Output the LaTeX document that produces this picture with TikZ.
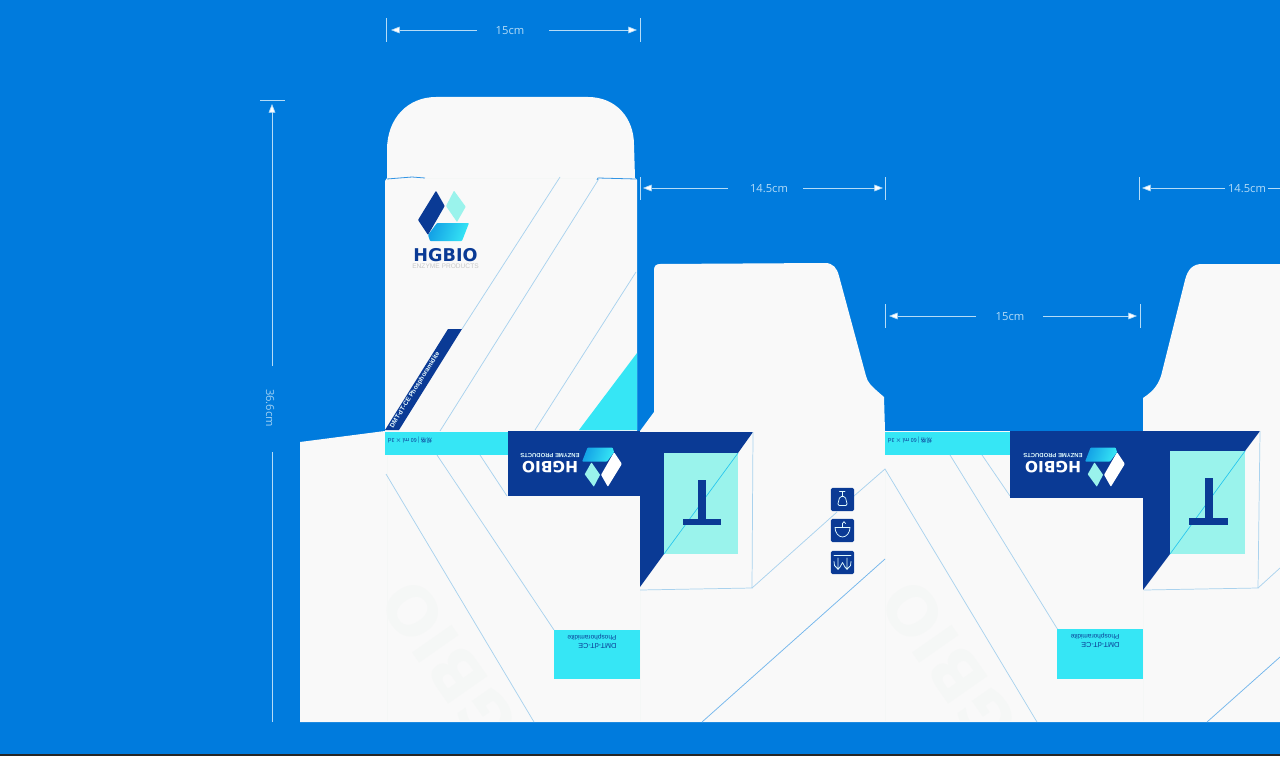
\documentclass[tikz,border=0pt]{standalone}
\usepackage{fontspec}
\setmainfont{Liberation Sans}
\newfontfamily\cjkf{Noto Sans CJK SC}
\newfontfamily\brandf{DejaVu Sans}
\newfontfamily\dimf{Open Sans}
\usetikzlibrary{arrows.meta}
\definecolor{bgblue}{HTML}{007BDD}
\definecolor{sheet}{HTML}{F9F9F9}
\definecolor{navy}{HTML}{0A3A95}
\definecolor{cyanb}{HTML}{36E6F5}
\definecolor{teal}{HTML}{9AF3EC}
\definecolor{fold}{HTML}{A9D2EE}
\definecolor{dimc}{HTML}{B5DCF7}
\definecolor{wmark}{HTML}{F5F7F6}
\newcommand{\sz}[1]{\fontsize{\dimexpr#1pt*3/4\relax}{\dimexpr#1pt\relax}\selectfont}
\colorlet{HGa}{bgblue!65!cyanb}
\colorlet{HGb}{cyanb}
\newcommand{\hglogo}[4]{% cx,cy,scale,para colour
 \begin{scope}[shift={(#1,#2)},xscale=#3,yscale=#3]
  \fill[#4,rounded corners=0.6pt] (-7.5,-25.3)--(1.2,-10)--(-15.5,19)--(-25.5,4)--cycle;
  \fill[teal,rounded corners=0.4pt] (10.5,-25.3)--(22.2,-9.3)--(13.5,6)--(2.5,-10)--cycle;
  \shade[left color=HGa,right color=HGb,rounded corners=0.6pt,shading angle=70] (-6.5,7)--(25.5,7)--(18.5,25)--(-13.5,25)--(-15.5,19)--cycle;
 \end{scope}}
\newcommand{\wicon}[2]{\node[iconbox] (#1) at #2 {};}
\tikzset{
 x=0.75pt,y=-0.75pt,
 sheetfill/.style={fill=sheet},
 foldline/.style={draw=fold,line width=0.55pt},
 edgeline/.style={draw=bgblue!80!white,line width=0.6pt},
 dimtick/.style={draw=dimc,line width=0.45pt},
 dimline/.style={draw=dimc,line width=0.5pt,-{Triangle[length=6.5pt,width=5pt,fill=white]}},
 dimplain/.style={draw=dimc,line width=0.5pt},
 dimtext/.style={text=dimc,inner sep=0pt,font=\dimf\sz{11.2}},
 hgword/.style={text=navy,inner sep=0pt,font=\brandf\bfseries\sz{17.6}},
 hgsub/.style={text=black!22,inner sep=0pt,font=\sz{6.6}},
 hgwordw/.style={text=white,inner sep=0pt,font=\brandf\bfseries\sz{15.4}},
 hgsubw/.style={text=white!85!cyanb,inner sep=0pt,font=\sz{5.9}\bfseries},
 boxlabel/.style={text=navy,inner sep=0pt,font=\sz{6.5}},
 iconbox/.style={fill=navy,draw=navy,rounded corners=1pt,minimum width=17pt,minimum height=17pt,inner sep=0pt},
 glyph/.style={draw=white!85!cyanb,line width=0.55pt,line cap=round,line join=round},
 wm/.style={text=wmark,inner sep=0pt,font=\brandf\bfseries\sz{66}}
}
\begin{document}
\begin{tikzpicture}
\useasboundingbox (0,0) rectangle (1280,756);
\begin{scope}
\clip (0,0) rectangle (1280,756);
\fill[bgblue] (0,0) rectangle (1280,756);
\fill[black!85] (0,754) rectangle (1280,756);
% sheet outline
\fill[sheetfill] (300,442)--(385,431)--(385,181)--(387,178)--(387,150)
  .. controls (387,118) and (408,97) .. (436,97)
  --(588,97) .. controls (616,97) and (634,118) .. (634,145)
  --(635,178)--(637,180)--(637,431)--(640,431)--(654,412)--(654,270)
  .. controls (654,266) and (656,264) .. (660,264)
  --(825,263) .. controls (833,263) and (837,268) .. (839,276)
  --(866,376) .. controls (868,383) and (870,385) .. (884,397)
  --(885,431)--(1143,431)--(1143,398)
  .. controls (1155,390) and (1158,384) .. (1161,376)
  --(1185,280) .. controls (1188,268) and (1194,264) .. (1202,264)
  --(1280,264)--(1280,722)--(300,722)--cycle;
% watermark
\begin{scope}
 \clip (300,500) rectangle (640,720.5);
 \node[wm,rotate=125,anchor=east] (wmA) at (396.5,588) {HGBIO};
\end{scope}
\begin{scope}
 \clip (885,500) rectangle (1143,720.5);
 \node[wm,rotate=125,anchor=east] (wmB) at (896.5,588) {HGBIO};
\end{scope}
\draw[draw=wmark,line width=0.5pt] (387,456)--(387,721) (640,590)--(640,721) (885,470)--(885,721) (1143,590)--(1143,721);
% upper panel fold lines
\draw[edgeline] (387,179)--(412,177)--(425,178);
\draw[edgeline] (597,180)--(598,178)--(636,179);
\draw[draw=wmark,line width=0.5pt] (425,178)--(597,178);
\draw[foldline] (560,177)--(462,329);
\draw[foldline] (600,177)--(440,431);
\draw[foldline] (636,272)--(535,430);
% cyan triangle and strip
\fill[cyanb] (637,353)--(579,430)--(637,430)--cycle;
\fill[navy] (448,329)--(462,329)--(399,430)--(385,430)--cycle;
\node[rotate=58,text=white!90!cyanb,inner sep=0pt,font=\sz{6.4}\bfseries] (strip) at (415,390) {DMT-dT-CE Phosphoramidite};
% logo on the front
\hglogo{443.5}{216}{1}{navy}
\node[hgword] (hg1) at (445.5,255) {HGBIO};
\node[hgsub] (sub1) at (445.5,266) {ENZYME PRODUCTS};
% lower-left fold lines
\draw[foldline] (386,474)--(534,722);
\draw[foldline] (437,455)--(554,630);
\draw[foldline] (480,455)--(507,496);
% band and banner 1
\fill[cyanb] (385,432) rectangle (508,455);
\node[rotate=180,text=navy,inner sep=0pt,font=\cjkf\sz{5.6}] (spec1) at (410,440) {规格 | 60 ml × 3d};
\fill[navy] (508,431) rectangle (640,496);
\hglogo{602}{467}{-0.78}{white}
\node[hgwordw,rotate=180] (hg2) at (550,467) {HGBIO};
\node[hgsubw,rotate=180] (sub2) at (550,456) {ENZYME PRODUCTS};
% cyan box 1
\fill[cyanb] (554,630) rectangle (640,679);
\node[boxlabel,rotate=180,align=left] (box1) at (592,641.5) {{\sz{7.2}DMT-dT-CE}\\Phosphoramidite};
% end panel 1
\fill[navy] (640,432)--(753,432)--(738,453)--(664,453)--(664,554)--(640,587)--cycle;
\fill[teal] (664,453) rectangle (738,554);
\draw[draw=cyanb!70!bgblue,line width=0.5pt] (738,453)--(664,554);
\fill[navy] (698,480) rectangle (706,520);
\fill[navy] (683,519) rectangle (721,525);
\draw[foldline] (753,432)--(752,588)--(640,590);
\draw[foldline] (752,588)--(837,512);
\draw[foldline] (854,496)--(885,469)--(1037,722);
\draw[foldline,draw=bgblue!55!white] (885,559)--(702,722);
% icons
\wicon{icA}{(842.5,499.5)}
\wicon{icB}{(842.5,530.5)}
\wicon{icC}{(842.5,562.5)}
\begin{scope}[shift={(icA.center)}]
 \draw[glyph] (-3,-7.7)--(2.5,-7.7) (0,-7.7)--(0,-3);
 \draw[glyph,rounded corners=1.2pt] (-2.7,-3)--(2.7,-3)--(5,6)--(-5,6)--cycle;
\end{scope}
\begin{scope}[shift={(icB.center)}]
 \draw[glyph] (-7.5,-3)--(7.5,-3) .. controls (7.5,2) and (4,6.5) .. (0,6.5) .. controls (-4,6.5) and (-7.5,2) .. (-7.5,-3)--cycle;
 \draw[glyph] (0,-3)--(0,-7) .. controls (0,-9.5) and (3,-9.5) .. (3,-7);
\end{scope}
\begin{scope}[shift={(icC.center)}]
 \draw[glyph] (-8.5,-7.5)--(8.5,-7.5);
 \draw[glyph] (-4.5,-4.5)--(-4.5,7) (-6.5,4.5)--(-4.5,7)--(-2.5,4.5);
 \draw[glyph] (4.5,-4.5)--(4.5,7) (2.5,4.5)--(4.5,7)--(6.5,4.5);
 \draw[glyph] (-8.5,-1)--(-8,3)--(-6.5,4.5) (-2.5,4.5)--(0,0)--(2.5,4.5) (6.5,4.5)--(8,3)--(8.5,-1);
\end{scope}
% second set
\draw[foldline] (950,455)--(1058,630);
\draw[foldline] (982,455)--(1010,496);
\fill[cyanb] (885,432) rectangle (1010,455);
\node[rotate=180,text=navy,inner sep=0pt,font=\cjkf\sz{5.6}] (spec2) at (910,440) {规格 | 60 ml × 3d};
\fill[navy] (1010,431) rectangle (1143,498);
\hglogo{1105}{467}{-0.78}{white}
\node[hgwordw,rotate=180] (hg3) at (1053,467) {HGBIO};
\node[hgsubw,rotate=180] (sub3) at (1053,456) {ENZYME PRODUCTS};
\fill[cyanb] (1057,629) rectangle (1143,679);
\node[boxlabel,rotate=180,align=left] (box2) at (1095,640.5) {{\sz{7.2}DMT-dT-CE}\\Phosphoramidite};
\fill[navy] (1143,431)--(1260,431)--(1245,451)--(1170,451)--(1170,554)--(1143,590)--cycle;
\fill[teal] (1170,451) rectangle (1245,554);
\draw[draw=cyanb!70!bgblue,line width=0.5pt] (1245,451)--(1170,554);
\fill[navy] (1205,478) rectangle (1213,519);
\fill[navy] (1189,518) rectangle (1228,525);
\draw[foldline] (1260,431)--(1258,588)--(1144,590);
\draw[foldline] (1258,588)--(1280,568);
\draw[foldline,draw=bgblue!55!white] (1280,657)--(1207,722);
% dimensions
\draw[dimtick] (386,18)--(386,42) (640,18)--(640,42);
\node[dimtext] (d15a) at (510,30.5) {15cm};
\coordinate (a1) at (477,30); \coordinate (a2) at (391,30);
\coordinate (a3) at (549,30); \coordinate (a4) at (637,30);
\draw[dimline] (a1)--(a2); \draw[dimline] (a3)--(a4);
\draw[dimtick] (640,177)--(640,200) (885,177)--(885,200);
\node[dimtext] (d145a) at (769,188.5) {14.5cm};
\coordinate (b1) at (728,188); \coordinate (b2) at (643,188);
\coordinate (b3) at (803,188); \coordinate (b4) at (883,188);
\draw[dimline] (b1)--(b2); \draw[dimline] (b3)--(b4);
\draw[dimtick] (885,304)--(885,328) (1140,304)--(1140,328);
\node[dimtext] (d15b) at (1010,316.5) {15cm};
\coordinate (c1) at (976,316); \coordinate (c2) at (889,316);
\coordinate (c3) at (1043,316); \coordinate (c4) at (1137,316);
\draw[dimline] (c1)--(c2); \draw[dimline] (c3)--(c4);
\draw[dimtick] (1139,177)--(1139,200);
\node[dimtext] (d145b) at (1247,188.5) {14.5cm};
\coordinate (e1) at (1225,188); \coordinate (e2) at (1142,188);
\coordinate (e3) at (1268,188); \coordinate (e4) at (1280,188);
\draw[dimline] (e1)--(e2); \draw[dimplain] (e3)--(e4);
\draw[dimtick] (260,100)--(285,100);
\node[dimtext,rotate=-90,text=dimc!88!bgblue] (d366) at (270,408) {36.6cm};
\coordinate (f1) at (272,366); \coordinate (f2) at (272,104);
\coordinate (f3) at (272,452); \coordinate (f4) at (272,722);
\draw[dimline] (f1)--(f2); \draw[dimplain] (f3)--(f4);
\end{scope}
\end{tikzpicture}
\end{document}
